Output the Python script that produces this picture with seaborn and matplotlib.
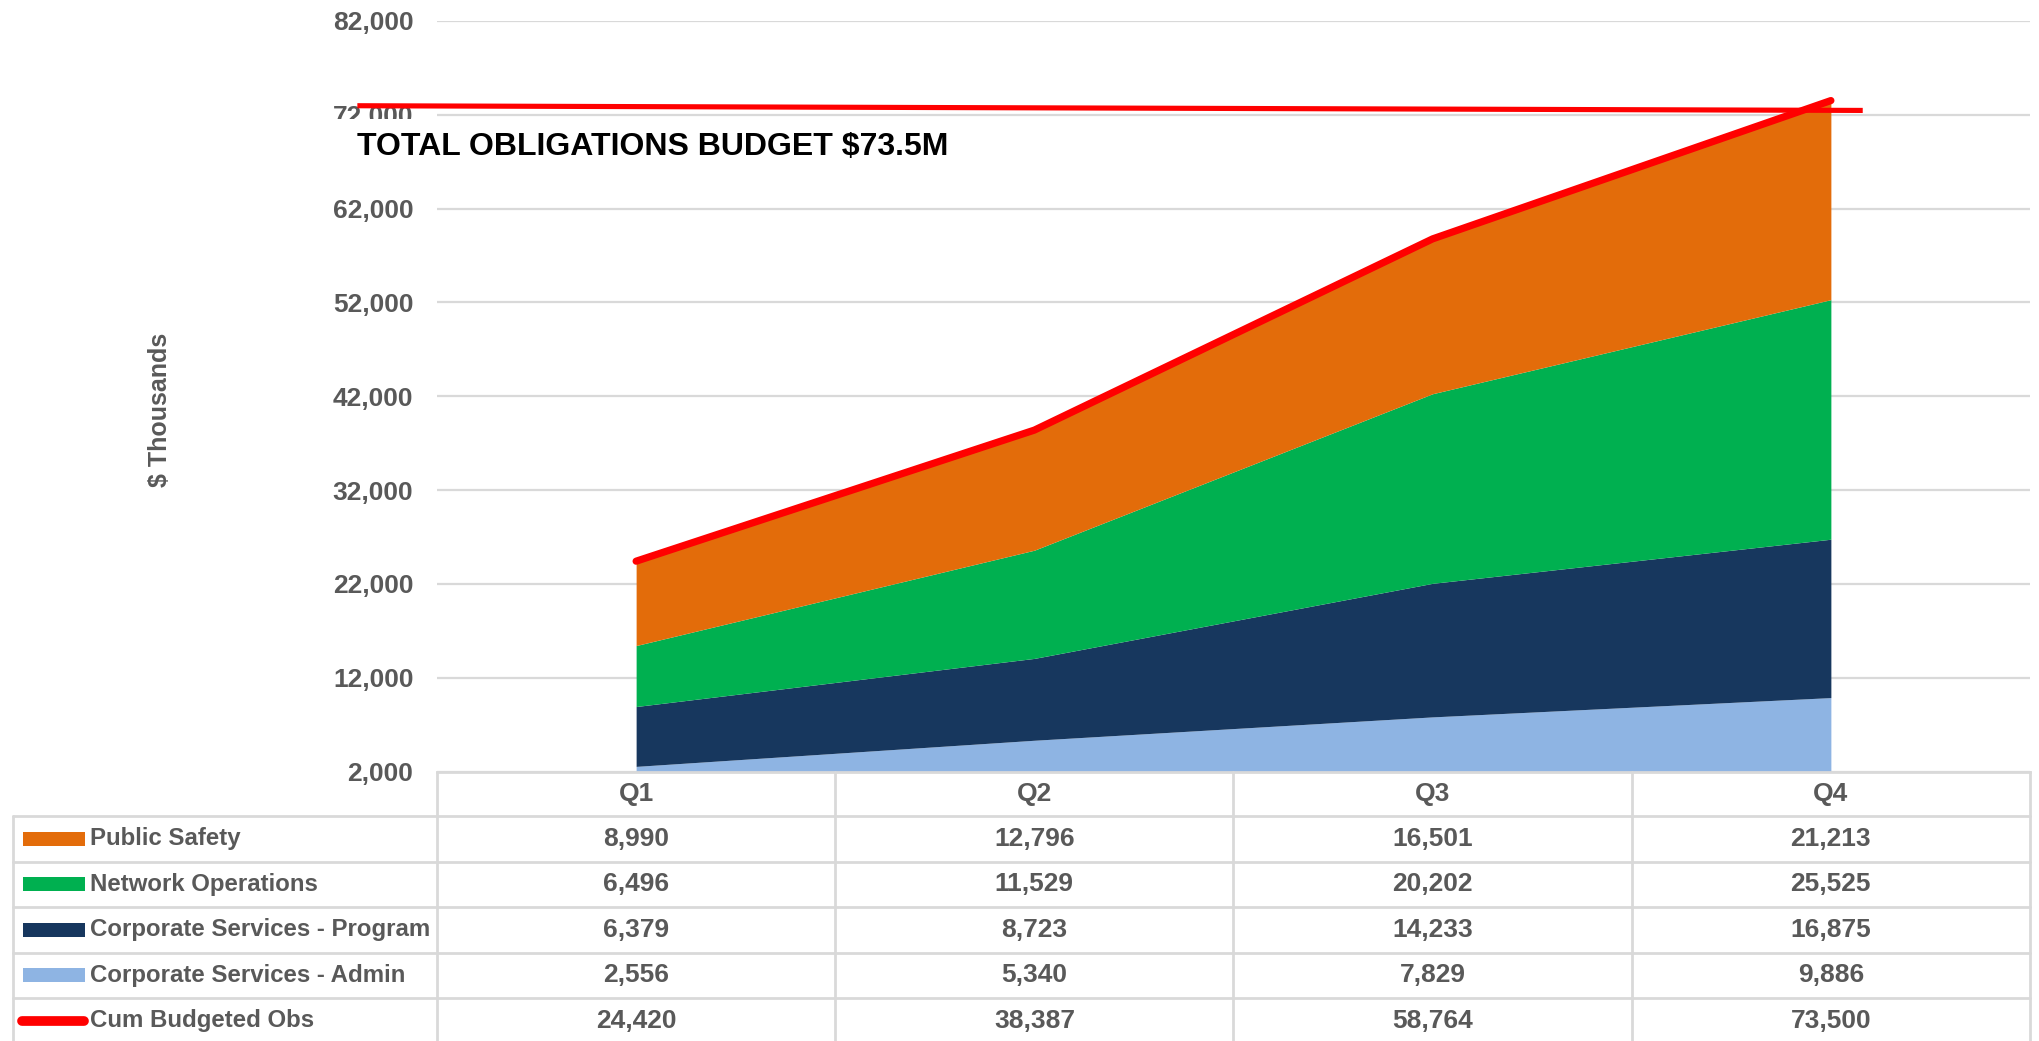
import numpy as np
import pandas as pd
import seaborn as sns
import matplotlib.pyplot as plt
from matplotlib.patches import Rectangle

quarters = ['Q1', 'Q2', 'Q3', 'Q4']
public_safety = [8990, 12796, 16501, 21213]
network_ops = [6496, 11529, 20202, 25525]
corp_program = [6379, 8723, 14233, 16875]
corp_admin = [2556, 5340, 7829, 9886]
cum_budget = [24420, 38387, 58764, 73500]

# hand drawn budget marker (slightly tilted in the original)
budget_x = [-0.70, 3.08]
budget_y = [72950, 72450]
budget_label = 'TOTAL OBLIGATIONS BUDGET $73.5M'

row_names = ['Public Safety', 'Network Operations', 'Corporate Services - Program',
             'Corporate Services - Admin', 'Cum Budgeted Obs']
row_values = [public_safety, network_ops, corp_program, corp_admin, cum_budget]
row_colors = ['#E36C0A', '#00B050', '#17375E', '#8EB4E3', '#FF0000']

sns.set_theme(style='white')
plt.rcParams['font.family'] = ['Liberation Sans Narrow', 'Liberation Sans', 'DejaVu Sans']
plt.rcParams['font.weight'] = 'bold'

W, H = 2040, 1041
grey = '#595959'
grid_c = '#D9D9D9'
fig = plt.figure(figsize=(W / 100, H / 100), dpi=100)

ax_l, ax_r, ax_t, ax_b = 437, 2030, 20.8, 771.6
ax = fig.add_axes([ax_l / W, 1 - ax_b / H, (ax_r - ax_l) / W, (ax_b - ax_t) / H])

x = np.arange(len(quarters))
ax.stackplot(x, corp_admin, corp_program, network_ops, public_safety,
             colors=['#8EB4E3', '#17375E', '#00B050', '#E36C0A'], linewidth=0, zorder=2)

df = pd.DataFrame({'q': x, 'cum': cum_budget})
sns.lineplot(data=df, x='q', y='cum', ax=ax, color='#FF0000', lw=5.2,
             solid_capstyle='round', zorder=4)

# white text box of the annotation (it hides the lower half of the 72,000 label)
ax.add_patch(Rectangle((budget_x[0] - 0.08, 65800), 1.8, 5700, facecolor='white',
                       edgecolor='none', clip_on=False, zorder=5))
ax.text(budget_x[0], 68600, budget_label, fontsize=23, fontweight='bold',
        color='black', ha='left', va='center', zorder=6,
        family=['Liberation Sans Narrow', 'Liberation Sans', 'DejaVu Sans'])
ax.plot(budget_x, budget_y, color='#FF0000', lw=3.7, clip_on=False,
        solid_capstyle='butt', zorder=7)

ax.set_xlim(-0.5, 3.5)
ax.set_ylim(2000, 82000)
ax.set_yticks(range(2000, 82001, 10000))
ax.set_yticklabels([f'{v:,}' for v in range(2000, 82001, 10000)])
ax.set_xticks([])
ax.set_xlabel('')
ax.set_ylabel('')
ax.tick_params(axis='y', length=0, pad=17, labelsize=19, labelcolor=grey)
ax.yaxis.grid(True, color=grid_c, lw=1.6, zorder=0)
ax.set_axisbelow(True)
for s in ['top', 'right', 'left']:
    ax.spines[s].set_visible(False)
ax.spines['bottom'].set_color(grid_c)
ax.spines['bottom'].set_linewidth(2)

fig.text(160 / W, 1 - 410 / H, '$ Thousands', rotation=90, ha='center', va='center',
         fontsize=18, color=grey, fontweight='bold')

# data table underneath, in pixel units from the top of the figure
tax = fig.add_axes([0, 0, 1, (H - ax_b) / H])
tax.set_xlim(0, W)
tax.set_ylim(H, ax_b)
tax.axis('off')

col_w = (ax_r - ax_l) / len(quarters)
col_edges = [ax_l + i * col_w for i in range(len(quarters) + 1)]
col_centers = [ax_l + (i + 0.5) * col_w for i in range(len(quarters))]
head_h, row_h = 44.4, 45.5
row_edges = [ax_b + head_h + i * row_h for i in range(len(row_names) + 1)]
tab_left = 13

for xe in col_edges:
    tax.plot([xe, xe], [ax_b, H], color=grid_c, lw=2, clip_on=False)
tax.plot([tab_left, tab_left], [row_edges[0], H], color=grid_c, lw=2, clip_on=False)
for ye in row_edges:
    tax.plot([tab_left, ax_r], [ye, ye], color=grid_c, lw=2, clip_on=False)

for q, cx in zip(quarters, col_centers):
    tax.text(cx, ax_b + head_h / 2, q, ha='center', va='center', fontsize=19,
             color=grey, fontweight='bold')

for i, (name, vals, c) in enumerate(zip(row_names, row_values, row_colors)):
    cy = row_edges[i] + row_h / 2
    if name == 'Cum Budgeted Obs':
        tax.plot([22, 84], [cy, cy], color=c, lw=7, solid_capstyle='round')
    else:
        tax.add_patch(Rectangle((23, cy - 7), 62, 14, color=c, lw=0))
    tax.text(90, cy, name, ha='left', va='center', fontsize=17.3, color=grey,
             fontweight='bold')
    for v, cx in zip(vals, col_centers):
        tax.text(cx, cy, f'{v:,}', ha='center', va='center', fontsize=19,
                 color=grey, fontweight='bold')

fig.savefig('out.png', dpi=100)
